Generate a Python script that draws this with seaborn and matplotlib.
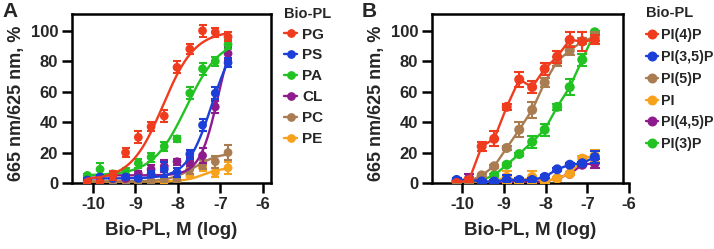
import numpy as np
import pandas as pd
import matplotlib
matplotlib.use('Agg')
import matplotlib.pyplot as plt
from matplotlib.lines import Line2D
import seaborn as sns

sns.set_theme(style='ticks')
plt.rcParams['font.family'] = ['Liberation Sans', 'DejaVu Sans']
plt.rcParams['font.weight'] = 'bold'
plt.rcParams['axes.labelweight'] = 'bold'

# log concentration of the dilution series (M)
log_conc = [-10.13, -9.83, -9.53, -9.23, -8.93, -8.63, -8.32, -8.02, -7.72, -7.42, -7.12, -6.82]

# panel A
lipids_a = ['PG', 'PS', 'PA', 'CL', 'PC', 'PE']
colors_a = ['#f03c1e', '#1c3fd8', '#23c223', '#8e1b8e', '#a97c52', '#f7a21c']
pg = [0.5, 0.5, 5, 20, 30, 37, 44, 76, 88, 100, 99, 96]
ps = [2, 4, 3, 4, 3, 6, 9, 7, 19, 38, 59, 79]
pa = [5, 9, 6, 8, 13, 17, 24, 29, 59, 75, 80, 91]
cl = [2, 3, 3, 3, 6, 9, 11, 14, 14, 18, 50, 85]
pc = [1, 1, 1, 1, 1, 1, 2, 2, 9, 12, 14, 20]
pe = [1, 1, 1, 1, 1, 1, 1, 2, 5, 10, 7, 10]
pg_err = [1, 1, 3, 3, 4, 3, 4, 4, 3, 4, 3, 3]
ps_err = [1, 1, 1, 1, 1, 2, 5, 3, 3, 4, 4, 3]
pa_err = [1, 4, 2, 2, 3, 3, 3, 2, 4, 4, 3, 3]
cl_err = [1, 1, 1, 1, 2, 3, 4, 2, 3, 5, 4, 4]
pc_err = [1, 1, 1, 1, 1, 1, 1, 1, 3, 3, 4, 5]
pe_err = [1, 1, 1, 1, 1, 1, 1, 1, 1, 2, 3, 4]
# 4-parameter fit (bottom, top, logEC50, hill)
fit_bottom = [2, 3, 5, 5, 1, 1]
fit_top = [100, 100, 95, 110, 20, 10]
fit_logec50 = [-8.35, -7.2, -7.8, -7.05, -7.6, -7.4]
fit_hill = [1.15, 1.5, 1.1, 2.0, 1.5, 2.0]

# panel B
lipids_b = ['PI(4)P', 'PI(3,5)P', 'PI(5)P', 'PI', 'PI(4,5)P', 'PI(3)P']
colors_b = ['#f03c1e', '#1c3fd8', '#a97c52', '#f7a21c', '#8e1b8e', '#23c223']
pi4p = [0, 2, 24, 29, 50, 68, 63, 75, 83, 94, 93, 94]
pi35p = [2, 2, 1, 1, 2, 2, 2, 4, 9, 12, 13, 17]
pi5p = [1, 1, 5, 11, 23, 35, 48, 66, 80, 87, 93, 96]
pi = [1, 1, 1, 1, 4, 1, 4, 1, 3, 6, 16, 18]
pi45p = [1, 3, 1, 0, 0, 1, 1, 1, 3, 6, 12, 13]
pi3p = [0, 1, 2, 5, 12, 19, 27, 35, 50, 63, 81, 99]
pi4p_err = [1, 1, 3, 5, 2, 5, 4, 4, 4, 5, 6, 3]
pi35p_err = [1, 1, 1, 1, 3, 1, 1, 1, 1, 1, 1, 4]
pi5p_err = [1, 1, 1, 1, 1, 5, 5, 3, 3, 3, 2, 3]
pi_err = [1, 1, 1, 1, 4, 1, 4, 1, 1, 1, 2, 4]
pi45p_err = [1, 3, 1, 1, 1, 1, 1, 1, 1, 1, 1, 3]
pi3p_err = [1, 1, 1, 1, 1, 1, 4, 4, 2, 5, 4, 1]


def long_table(names, values, errors):
    rows = []
    for name, vals, errs in zip(names, values, errors):
        rows.append(pd.DataFrame({'logc': log_conc, 'value': vals, 'err': errs, 'lipid': name}))
    return pd.concat(rows, ignore_index=True)


df_a = long_table(lipids_a, [pg, ps, pa, cl, pc, pe],
                  [pg_err, ps_err, pa_err, cl_err, pc_err, pe_err])
df_b = long_table(lipids_b, [pi4p, pi35p, pi5p, pi, pi45p, pi3p],
                  [pi4p_err, pi35p_err, pi5p_err, pi_err, pi45p_err, pi3p_err])

# fitted curves for panel A
xs = np.linspace(min(log_conc), max(log_conc), 200)
fits = []
for i, name in enumerate(lipids_a):
    y = fit_bottom[i] + (fit_top[i] - fit_bottom[i]) / (1 + 10 ** (fit_hill[i] * (fit_logec50[i] - xs)))
    fits.append(pd.DataFrame({'logc': xs, 'value': y, 'lipid': name}))
fit_a = pd.concat(fits, ignore_index=True)

W, H = 714, 249
fig = plt.figure(figsize=(W / 100, H / 100), dpi=100)
ax_a = fig.add_axes([72 / W, 1 - 183 / H, 199 / W, 169 / H])
ax_b = fig.add_axes([432 / W, 1 - 183 / H, 197 / W, 169 / H])


def draw(ax, df, names, colors, msize, cap, curves=None):
    pal = dict(zip(names, colors))
    # draw the first series last so it sits on top
    for name in names[::-1]:
        sub = df[df.lipid == name]
        z = 3 + (len(names) - names.index(name))
        if curves is not None:
            c = curves[curves.lipid == name]
            sns.lineplot(data=c, x='logc', y='value', color=pal[name], lw=1.7, ax=ax, zorder=z)
        else:
            sns.lineplot(data=sub, x='logc', y='value', color=pal[name], lw=1.7, ax=ax, zorder=z)
        ax.errorbar(sub.logc, sub.value, yerr=sub.err, fmt='none', ecolor=pal[name],
                    elinewidth=1.5, capsize=cap, capthick=1.5, zorder=z)
        sns.scatterplot(data=sub, x='logc', y='value', color=pal[name], s=msize ** 2,
                        edgecolor='none', ax=ax, zorder=z + 0.5)
    ax.set_ylim(0, 111)
    ax.set_yticks([0, 20, 40, 60, 80, 100])
    ax.set_xticks([-10, -9, -8, -7, -6])
    ax.set_xticklabels(['-10', '-9', '-8', '-7', '-6'])
    ax.tick_params(axis='both', labelsize=12, width=1.8, length=7, color='black', pad=3)
    for s in ax.spines.values():
        s.set_linewidth(1.8)
        s.set_color('black')
        s.set_visible(True)
    ax.set_xlabel('Bio-PL, M (log)', fontsize=13.5, fontweight='bold', labelpad=7)
    ax.set_ylabel('665 nm/625 nm, %', fontsize=13, fontweight='bold', labelpad=4, y=0.47)
    ax.set_facecolor('white')
    handles = [Line2D([0], [0], color=c, lw=1.7, marker='o', markersize=msize, markeredgewidth=0)
               for c in colors]
    return handles


h_a = draw(ax_a, df_a, lipids_a, colors_a, 6.3, 3.2, curves=fit_a)
ax_a.set_xlim(-10.49, -5.81)

h_b = draw(ax_b, df_b, lipids_b, colors_b, 7.2, 3.6)
ax_b.set_xlim(-10.72, -6.0)
ax_b.spines['right'].set_position(('data', -6.15))
ax_b.spines['top'].set_bounds(-10.72, -6.15)

leg_a = fig.legend(h_a, lipids_a, title='Bio-PL', loc='upper left',
                   bbox_to_anchor=(276 / W, 1 + 1 / H), frameon=False, fontsize=11,
                   title_fontproperties={'weight': 'bold', 'size': 10.5}, handlelength=0.9,
                   handletextpad=0.3, labelspacing=0.45, borderpad=0, alignment='left')
leg_b = fig.legend(h_b, lipids_b, title='Bio-PL', loc='upper left',
                   bbox_to_anchor=(639 / W, 1 + 1 / H), frameon=False, fontsize=10.3,
                   title_fontproperties={'weight': 'bold', 'size': 10.5}, handlelength=0.8,
                   handletextpad=0.25, labelspacing=0.55, borderpad=0, alignment='left')

fig.text(2 / W, 1 - 2 / H, 'A', fontsize=15, fontweight='bold', va='top', ha='left')
fig.text(362 / W, 1 - 2 / H, 'B', fontsize=15, fontweight='bold', va='top', ha='left')

fig.savefig('out.png', dpi=100, facecolor='white')
